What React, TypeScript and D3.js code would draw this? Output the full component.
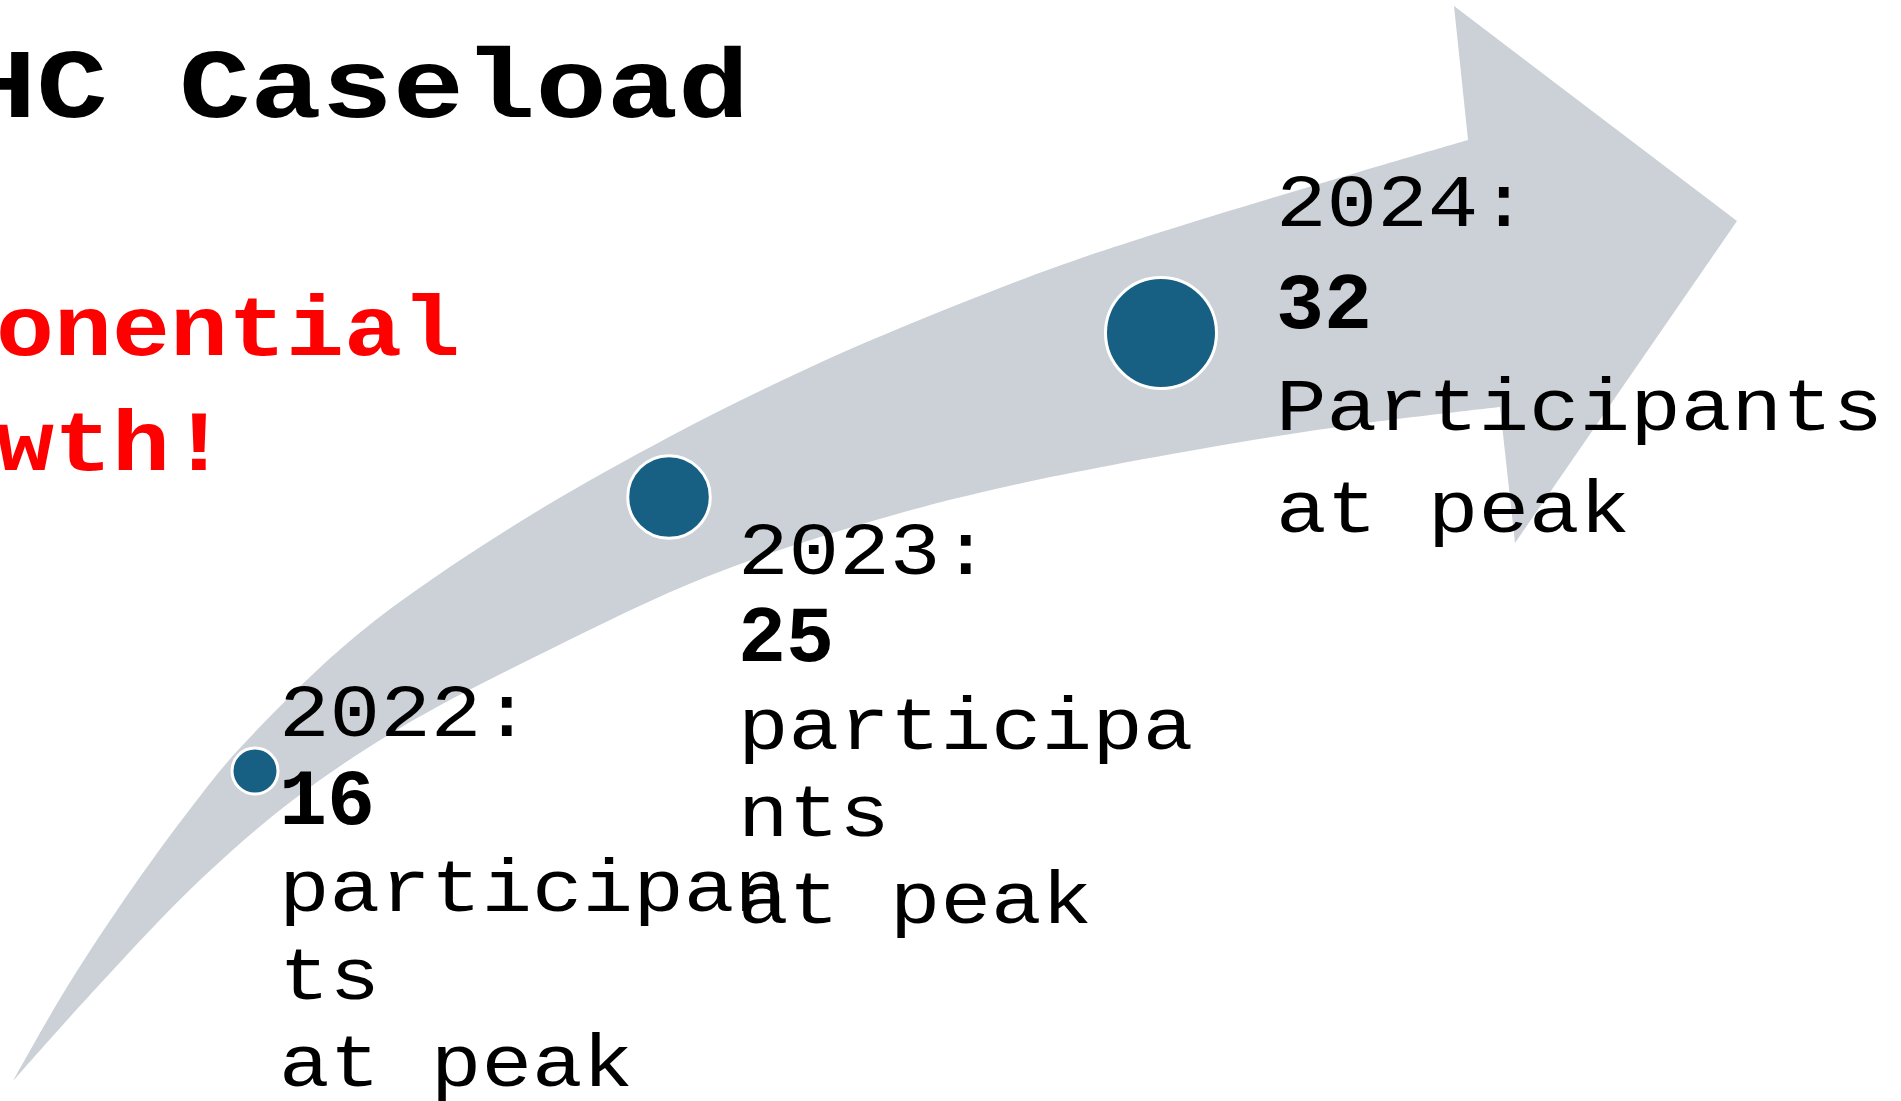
import { useEffect, useRef } from 'react';
import * as d3 from 'd3';

// chart values
const years = [2022, 2023, 2024];
const participants = [16, 25, 32];
const tailLines = [
  ["participan", "ts", "at peak"],
  ["participa", "nts", "at peak"],
  ["Participants", "at peak"],
];

const titleText = "HC Caseload";
const noteLines = ["Exponential", "growth!"];

// outline of the curved arrow (slide geometry, not data)
const upperEdge: [number, number][] = [
  [13, 1081], [67, 987], [133, 887], [197, 800], [240, 748], [357, 635],
  [510, 528], [669, 437], [800, 372], [900, 328], [1053, 268], [1161, 232],
  [1359, 172], [1468, 140],
];
const lowerEdge: [number, number][] = [
  [13, 1081], [100, 984], [200, 880], [293, 800], [400, 728], [553, 648],
  [706, 577], [859, 525], [1000, 488], [1206, 448], [1359, 424], [1500, 407],
];
const headPts: [number, number][] = [[1454, 6], [1737, 221], [1515, 543]];

export default function App() {
  const svgRef = useRef<SVGSVGElement>(null);

  useEffect(() => {
    if (!svgRef.current) return;
    document.body.style.margin = "0";

    const width = 1901;
    const height = 1101;
    const font = "'Liberation Mono', 'Courier New', monospace";

    const svg = d3.select(svgRef.current);
    svg.selectAll("*").remove();
    svg.attr("width", width).attr("height", height)
      .attr("viewBox", [0, 0, width, height]);

    svg.append("rect").attr("width", width).attr("height", height).attr("fill", "#fff");

    // arrow
    const edge = d3.line().curve(d3.curveCatmullRom.alpha(0.5));
    const up = edge(upperEdge) as string;
    const low = (edge(lowerEdge.slice().reverse()) as string).replace(/^M/, "L");
    const head = headPts.map(p => `L${p[0]},${p[1]}`).join("");
    svg.append("path")
      .attr("d", up + head + low + "Z")
      .attr("fill", "#CCD1D8");

    // markers placed along the arrow
    const xPos = d3.scaleLinear().domain(years).range([255, 669, 1161]);
    const yPos = d3.scaleLinear().domain(years).range([771, 497, 333]);
    const r = d3.scaleLinear().domain([16, 32]).range([23, 55.5]);

    svg.append("g").selectAll("circle")
      .data(years)
      .join("circle")
      .attr("cx", d => xPos(d))
      .attr("cy", d => yPos(d))
      .attr("r", (d, i) => r(participants[i]))
      .attr("fill", "#176083")
      .attr("stroke", "#fff")
      .attr("stroke-width", 3);

    // label blocks
    const charW = 50.6;
    const labelX = d3.scaleLinear().domain(years).range([279, 738, 1276]);
    const labelY = d3.scaleLinear().domain(years).range([736, 574, 226]);
    const lineGap = d3.scaleLinear().domain(years).range([87.5, 87.3, 102]);

    years.forEach((yr, i) => {
      const lines = [
        { t: `${yr}:`, bold: false },
        { t: `${participants[i]}`, bold: true },
        ...tailLines[i].map(t => ({ t, bold: false })),
      ];
      const g = svg.append("g");
      lines.forEach((ln, j) => {
        const txt = g.append("text")
          .attr("x", labelX(yr))
          .attr("y", labelY(yr) + j * lineGap(yr))
          .attr("font-family", font)
          .attr("font-size", ln.bold ? 80 : 75)
          .attr("font-weight", ln.bold ? "bold" : "normal")
          .attr("fill", "#000")
          .attr("xml:space", "preserve")
          .text(ln.t);
        if (!ln.bold) {
          txt.attr("textLength", ln.t.length * charW)
            .attr("lengthAdjust", "spacingAndGlyphs");
        }
      });
    });

    // title
    svg.append("text")
      .attr("x", -35)
      .attr("y", 117)
      .attr("font-family", font)
      .attr("font-size", 99)
      .attr("font-weight", "bold")
      .attr("fill", "#000")
      .attr("textLength", titleText.length * 71.3)
      .attr("lengthAdjust", "spacingAndGlyphs")
      .text(titleText);

    // red note
    noteLines.forEach((t, i) => {
      svg.append("text")
        .attr("x", -178)
        .attr("y", 355 + i * 115)
        .attr("font-family", font)
        .attr("font-size", 85)
        .attr("font-weight", "bold")
        .attr("fill", "#FF0000")
        .attr("textLength", t.length * 58)
        .attr("lengthAdjust", "spacingAndGlyphs")
        .text(t);
    });
  }, []);

  return (
    <div style={{ position: "absolute", left: 0, top: 0 }}>
      <svg ref={svgRef} style={{ display: "block" }}></svg>
    </div>
  );
}
